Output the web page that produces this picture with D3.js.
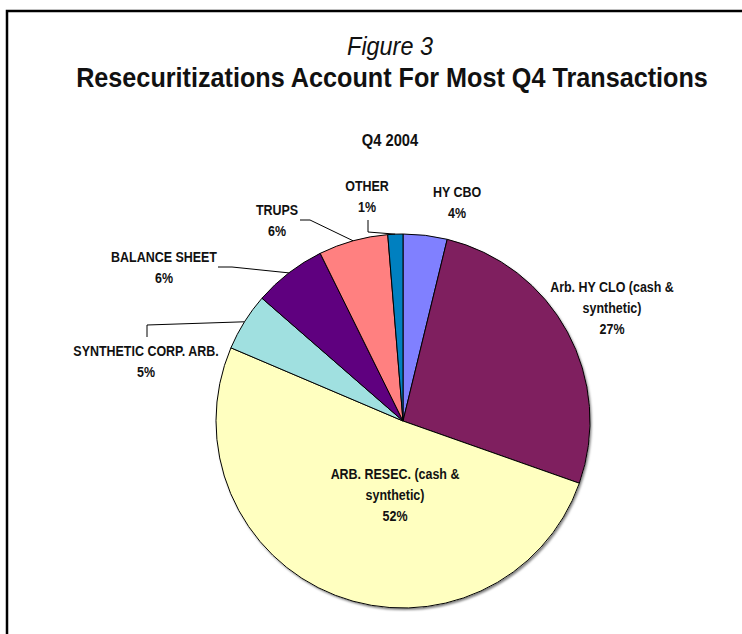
<!DOCTYPE html>
<html lang="en">
  <head>
    <meta charset="UTF-8" />
    <title>Figure 3</title>
    <script src="https://d3js.org/d3.v7.min.js"></script>
    <style>
      body {
        margin: 0;
        background: #fff;
      }
      svg text {
        font-family: "Liberation Sans", Arial, sans-serif;
        fill: #111;
      }
      .slice {
        stroke: #000;
        stroke-width: 1;
      }
      .leader {
        fill: none;
        stroke: #000;
        stroke-width: 1;
      }
    </style>
  </head>

  <body>
    <svg width="742" height="634"></svg>
    <script>
      // data, clockwise from 12 o'clock
      const categories = [
        "HY CBO",
        "Arb. HY CLO (cash & synthetic)",
        "ARB. RESEC. (cash & synthetic)",
        "SYNTHETIC CORP. ARB.",
        "BALANCE SHEET",
        "TRUPS",
        "OTHER"
      ];
      const shares = [3.8, 26.6, 51.0, 5.0, 6.3, 6.0, 1.3];
      const pctLabels = ["4%", "27%", "52%", "5%", "6%", "6%", "1%"];
      const colors = ["#8080ff", "#7f1f5f", "#ffffc0", "#a0e0e0", "#5f007f", "#ff8080", "#0080c0"];

      // label text lines and where they sit (relative to pie centre)
      const labelLines = [
        ["HY CBO"],
        ["Arb. HY CLO (cash &", "synthetic)"],
        ["ARB. RESEC. (cash &", "synthetic)"],
        ["SYNTHETIC CORP. ARB."],
        ["BALANCE SHEET"],
        ["TRUPS"],
        ["OTHER"]
      ];
      const labelPos = [[54, -224], [209, -129], [-8, 58], [-257, -65], [-239, -159], [-126, -206], [-36, -230]];
      // leader lines: label-side points, the last point is put on the slice edge
      const leaders = [null, null, null,
        [[-256, -84], [-256, -96]],
        [[-185, -154], [-171, -154]],
        [[-103, -201], [-93, -201]],
        [[-35, -201], [-35, -189]]
      ];

      const svg = d3.select("svg"),
        width = +svg.attr("width"),
        height = +svg.attr("height");

      const cx = 403, cy = 421, r = 187;

      // Liberation Sans squeezed sideways, to look like the narrow face of the original
      function narrowText(parent, x, y, lines, size, lh, sx) {
        const gg = parent.append("g")
          .attr("transform", `translate(${x},${y}) scale(${sx},1)`);
        const t = gg.append("text")
          .attr("text-anchor", "middle")
          .style("font-size", size + "px");
        lines.forEach(function (s, k) {
          t.append("tspan").attr("x", 0).attr("y", k * lh).text(s);
        });
        return t;
      }

      // frame
      svg.append("path")
        .attr("d", `M7,${height} V11 H${width}`)
        .attr("fill", "none")
        .attr("stroke", "#000")
        .attr("stroke-width", 2.5);

      narrowText(svg, 390, 55, ["Figure 3"], 26, 0, 0.9)
        .style("font-style", "italic");

      narrowText(svg, 392, 87, ["Resecuritizations Account For Most Q4 Transactions"], 28, 0, 0.9)
        .style("font-weight", "bold");

      narrowText(svg, 390, 146, ["Q4 2004"], 16, 0, 0.92)
        .style("font-weight", "bold");

      const defs = svg.append("defs");
      const f = defs.append("filter").attr("id", "shadow")
        .attr("x", "-10%").attr("y", "-10%").attr("width", "120%").attr("height", "120%");
      f.append("feDropShadow")
        .attr("dx", 1.5).attr("dy", 2)
        .attr("stdDeviation", 1.2)
        .attr("flood-color", "#000")
        .attr("flood-opacity", 0.5);

      const pie = d3.pie().sort(null).value(d => d)(shares);
      const arc = d3.arc().innerRadius(0).outerRadius(r);

      const g = svg.append("g").attr("transform", `translate(${cx},${cy})`);

      g.append("circle").attr("r", r).attr("fill", "#fff").attr("filter", "url(#shadow)");

      g.selectAll(".slice")
        .data(pie)
        .enter()
        .append("path")
        .attr("class", "slice")
        .attr("d", arc)
        .attr("fill", (d, i) => colors[i]);

      // leader lines
      g.selectAll(".leader")
        .data(pie.filter((d, i) => leaders[i]))
        .enter()
        .append("path")
        .attr("class", "leader")
        .attr("d", function (d) {
          const pts = leaders[d.index].slice();
          const a = (d.startAngle + d.endAngle) / 2;
          pts.push([Math.sin(a) * r, -Math.cos(a) * r]);
          return d3.line()(pts);
        });

      // labels
      pie.forEach(function (d, i) {
        narrowText(g, labelPos[i][0], labelPos[i][1], labelLines[i].concat([pctLabels[i]]), 14, 21, 0.89)
          .style("font-weight", "bold");
      });
    </script>
  </body>
</html>
